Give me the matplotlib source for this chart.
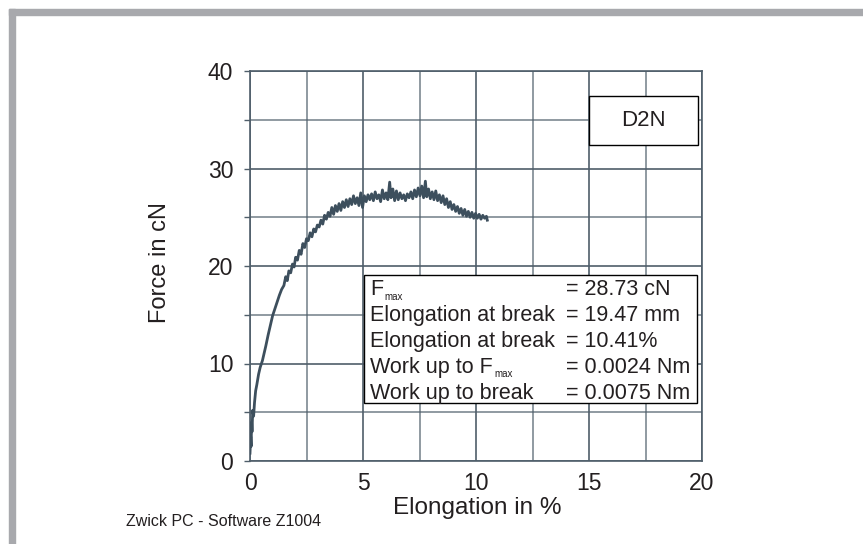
import matplotlib
matplotlib.use('Agg')
import matplotlib.pyplot as plt
from matplotlib.patches import Rectangle

plt.rcParams['font.family'] = ['Liberation Sans', 'DejaVu Sans']

# Kurve: Dehnung in % und Kraft in cN
elongation = [0.00, 0.03, 0.05, 0.07, 0.09, 0.12, 0.16, 0.20, 0.25, 0.30,
              0.38, 0.45, 0.55, 0.62, 0.70, 0.80, 0.90, 1.00, 1.10, 1.20,
              1.30, 1.40, 1.50, 1.58, 1.65, 1.72, 1.80, 1.88, 1.95, 2.02,
              2.10, 2.18, 2.26, 2.34, 2.42, 2.50, 2.58, 2.66, 2.74, 2.82,
              2.90, 2.98, 3.06, 3.14, 3.22, 3.30, 3.38, 3.46, 3.54, 3.62,
              3.70, 3.78, 3.86, 3.94, 4.02, 4.10, 4.18, 4.26, 4.34, 4.42,
              4.50, 4.58, 4.66, 4.74, 4.82, 4.90, 4.98, 5.06, 5.14, 5.22,
              5.30, 5.38, 5.46, 5.54, 5.62, 5.70, 5.78, 5.86, 5.94, 6.02,
              6.10, 6.18, 6.24, 6.32, 6.40, 6.48, 6.56, 6.64, 6.72, 6.80,
              6.88, 6.96, 7.04, 7.12, 7.20, 7.28, 7.36, 7.44, 7.52, 7.60,
              7.68, 7.76, 7.82, 7.90, 7.98, 8.06, 8.14, 8.22, 8.30, 8.38,
              8.46, 8.54, 8.62, 8.70, 8.78, 8.86, 8.94, 9.02, 9.10, 9.18,
              9.26, 9.34, 9.42, 9.50, 9.58, 9.66, 9.74, 9.82, 9.90, 9.98,
              10.06, 10.14, 10.22, 10.30, 10.38, 10.46, 10.50]
force = [0.8, 2.5, 1.5, 4.0, 3.0, 5.2, 4.6, 6.0, 7.2, 7.8,
         8.9, 9.6, 10.3, 11.0, 11.8, 12.9, 13.9, 14.9, 15.6, 16.3,
         17.0, 17.6, 18.0, 18.9, 18.5, 19.5, 19.3, 20.2, 19.9, 20.9,
         20.6, 21.6, 21.2, 22.3, 21.9, 22.8, 22.6, 23.4, 23.0, 23.8,
         23.5, 24.2, 24.0, 24.7, 24.3, 25.2, 24.8, 25.5, 25.1, 26.0,
         25.3, 26.2, 25.6, 26.4, 25.7, 26.6, 26.0, 26.8, 26.1, 26.9,
         26.3, 27.2, 26.4, 27.0, 26.2, 27.5, 26.0, 27.2, 26.6, 27.3,
         26.8, 27.4, 26.7, 27.6, 26.9, 27.3, 26.6, 27.8, 26.9, 27.5,
         26.8, 28.6, 27.0, 27.9, 26.7, 27.7, 26.8, 27.5, 26.9, 27.3,
         26.7, 27.4, 27.0, 27.6, 26.9, 27.8, 27.1, 28.0, 27.2, 28.2,
         27.0, 28.7, 27.1, 27.9, 26.9, 27.6, 26.8, 27.7, 26.7, 27.3,
         26.5, 27.2, 26.3, 26.9, 26.0, 26.6, 25.8, 26.3, 25.6, 26.1,
         25.4, 25.9, 25.2, 25.8, 25.1, 25.6, 25.0, 25.5, 24.9, 25.4,
         24.9, 25.3, 24.8, 25.2, 24.9, 25.1, 24.7]

sample_name = 'D2N'
result_labels = ['F', 'Elongation at break', 'Elongation at break',
                 'Work up to F', 'Work up to break']
result_values = ['= 28.73 cN', '= 19.47 mm', '= 10.41%',
                 '= 0.0024 Nm', '= 0.0075 Nm']
result_sub = [True, False, False, True, False]

x_ticks = [0, 5, 10, 15, 20]
y_ticks = [0, 10, 20, 30, 40]

grid_col = '#4f5e6a'
curve_col = '#3d4f5d'
text_col = '#231f20'

fig = plt.figure(figsize=(8.63, 5.44), dpi=100)
W, H = 863, 544

# grauer Rahmen oben und links
fig.patches.append(Rectangle((9 / W, 1 - 15 / H), 1 - 9 / W, 6 / H,
                             transform=fig.transFigure, color='#a8a9ad', zorder=0))
fig.patches.append(Rectangle((9 / W, 0), 6 / W, 1 - 9 / H,
                             transform=fig.transFigure, color='#a8a9ad', zorder=0))

ax = fig.add_axes([250 / W, 1 - 461 / H, 452 / W, 390 / H])
ax.set_xlim(0, 20)
ax.set_ylim(0, 40)
ax.set_xticks(x_ticks)
ax.set_yticks(y_ticks)
ax.set_xticks([2.5, 7.5, 12.5, 17.5], minor=True)
ax.set_yticks([5, 15, 25, 35], minor=True)
ax.grid(which='major', color=grid_col, lw=1.2)
ax.grid(which='minor', color=grid_col, lw=1.1, alpha=0.8)
for s in ax.spines.values():
    s.set_color(grid_col)
    s.set_linewidth(1.2)
ax.tick_params(axis='x', which='both', length=0, pad=8, labelsize=16.5, labelcolor=text_col)
ax.tick_params(axis='y', which='both', length=4, width=1, color=grid_col,
               pad=8, labelsize=16.5, labelcolor=text_col)

ax.plot(elongation, force, color=curve_col, lw=2.0, zorder=3)

# Probenname
ax.add_patch(Rectangle((15.0, 32.4), 4.82, 5.0, facecolor='white',
                       edgecolor='black', lw=1, zorder=5))
ax.text(17.4, 34.9, sample_name, ha='center', va='center', fontsize=16,
        color=text_col, zorder=6)

# Ergebnisbox
ax.add_patch(Rectangle((5.05, 5.95), 14.75, 13.15, facecolor='white',
                       edgecolor='black', lw=1, zorder=5))
for i in range(len(result_labels)):
    yy = 17.0 - i * 2.65
    t = ax.text(5.3, yy, result_labels[i], ha='left', va='baseline',
                fontsize=15.5, color=text_col, zorder=6)
    if result_sub[i]:
        ax.annotate('max', xy=(1, 0), xycoords=t, xytext=(1, -1),
                    textcoords='offset points', ha='left', va='bottom',
                    fontsize=7, color=text_col, zorder=6)
    ax.text(14.0, yy, result_values[i], ha='left', va='baseline',
            fontsize=15.5, color=text_col, zorder=6)

fig.text(160 / W, 1 - 263 / H, 'Force in cN', rotation=90, ha='center',
         va='center', fontsize=17, color=text_col)
fig.text(477 / W, 1 - 508 / H, 'Elongation in %', ha='center', va='center',
         fontsize=17.5, color=text_col)
fig.text(126 / W, 1 - 522 / H, 'Zwick PC - Software Z1004', ha='left',
         va='center', fontsize=11.5, color=text_col)

fig.savefig('out.png', dpi=100)
